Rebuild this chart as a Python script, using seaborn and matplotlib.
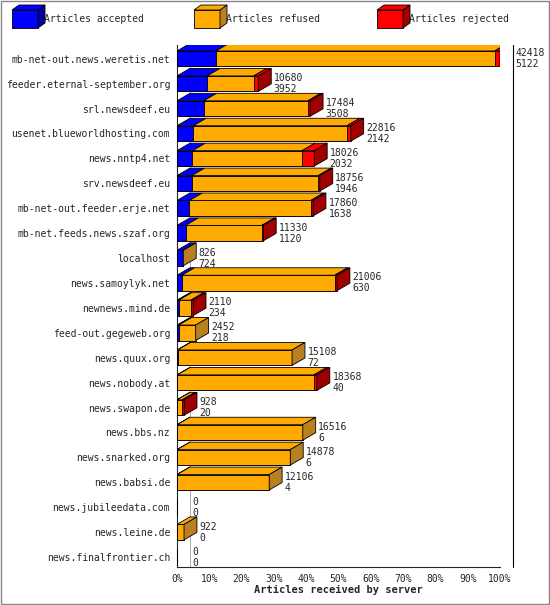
import matplotlib
matplotlib.use("Agg")
import matplotlib.pyplot as plt
import seaborn as sns
import numpy as np
import pandas as pd
from matplotlib.patches import Polygon, Rectangle

servers = ["mb-net-out.news.weretis.net","feeder.eternal-september.org","srl.newsdeef.eu",
 "usenet.blueworldhosting.com","news.nntp4.net","srv.newsdeef.eu","mb-net-out.feeder.erje.net",
 "mb-net.feeds.news.szaf.org","localhost","news.samoylyk.net","newnews.mind.de",
 "feed-out.gegeweb.org","news.quux.org","news.nobody.at","news.swapon.de","news.bbs.nz",
 "news.snarked.org","news.babsi.de","news.jubileedata.com","news.leine.de","news.finalfrontier.ch"]
total    = [42418,10680,17484,22816,18026,18756,17860,11330,826,21006,2110,2452,15108,18368,928,16516,14878,12106,0,922,0]
accepted = [5122,3952,3508,2142,2032,1946,1638,1120,724,630,234,218,72,40,20,6,6,4,0,0,0]
rejected = [700,600,300,500,1600,200,300,200,0,300,300,0,0,400,250,0,0,0,0,0,0]

sns.set_style("white")
plt.rcParams['font.family'] = ['DejaVu Sans Mono']
plt.rcParams['font.size'] = 7

mx = max(total)
df = pd.DataFrame({"server": servers,
    "acc": np.array(accepted)/mx*100,
    "ar": (np.array(total)-np.array(rejected))/mx*100,
    "tot": np.array(total)/mx*100})

fig = plt.figure(figsize=(5.5,6.05), dpi=100)
ax = fig.add_axes([177/550, 1-567/605, 323/550, (567-45)/605])
BLUE, ORANGE, RED = "#0000ff", "#ffaa00", "#ff0000"
SIDE = {BLUE: "#0000a0", ORANGE: "#b88020", RED: "#a00000"}
H = 0.62
for col, c in [("tot", RED), ("ar", ORANGE), ("acc", BLUE)]:
    sns.barplot(data=df, y="server", x=col, color=c, orient="h", width=H,
                edgecolor="black", linewidth=0.6, ax=ax, saturation=1, zorder=3)
dx, dy = 4.0, 0.3
for i in range(len(servers)):
    segs = [(0, df.acc[i], BLUE), (df.acc[i], df.ar[i], ORANGE), (df.ar[i], df.tot[i], RED)]
    yt = i - H/2
    last = None
    for x0, x1, c in segs:
        if x1 - x0 <= 0: continue
        ax.add_patch(Polygon([(x0,yt),(x1,yt),(x1+dx,yt-dy),(x0+dx,yt-dy)], closed=True,
                             fc=c, ec="black", lw=0.6, zorder=4))
        last = (x1, c)
    if last:
        x1, c = last
        ax.add_patch(Polygon([(x1,yt),(x1+dx,yt-dy),(x1+dx,yt+H-dy),(x1,yt+H)], closed=True,
                             fc=SIDE[c], ec="black", lw=0.6, zorder=4))
    xe = df.tot[i] + dx + 0.8
    ax.text(xe, i-0.22, str(total[i]), va="center", ha="left", fontsize=7, zorder=5)
    ax.text(xe, i+0.22, str(accepted[i]), va="center", ha="left", fontsize=7, zorder=5)

ax.set_xlim(0, 100)
ax.set_ylim(20.4, -0.55)
ax.set_xticks(np.arange(0, 101, 10))
ax.set_xticklabels([f"{v}%" for v in range(0, 101, 10)])
ax.set_ylabel("")
ax.set_xlabel("Articles received by server", fontweight="bold", fontsize=7.5, labelpad=1)
ax.tick_params(axis="both", length=3, pad=2, labelsize=7)
for s in ["top", "right"]:
    ax.spines[s].set_visible(False)
ax.plot([100+dx, 100+dx], [20.4, -0.55], color="black", lw=0.8, clip_on=False)
ax.plot([dx, dx], [20.4, -0.55], color="#888888", lw=0.5, zorder=1)

for x, c, lab in [(12, BLUE, "Articles accepted"), (194, ORANGE, "Articles refused"), (377, RED, "Articles rejected")]:
    fig.patches.append(Rectangle((x/550, 1-28/605), 26/550, 18/605, transform=fig.transFigure,
                                 fc=c, ec="black", lw=0.6))
    fig.patches.append(Polygon([((x+26)/550, 1-28/605), ((x+33)/550, 1-23/605),
                                ((x+33)/550, 1-5/605), ((x+26)/550, 1-10/605)], closed=True,
                               transform=fig.transFigure, fc=SIDE[c], ec="black", lw=0.6))
    fig.patches.append(Polygon([(x/550, 1-10/605), ((x+26)/550, 1-10/605), ((x+33)/550, 1-5/605),
                                ((x+7)/550, 1-5/605)], closed=True,
                               transform=fig.transFigure, fc=c, ec="black", lw=0.6))
    fig.text((x+32)/550, 1-19/605, lab, va="center", ha="left", fontsize=7)
fig.patches.append(Rectangle((0.001, 0.001), 0.997, 0.997, transform=fig.transFigure,
                             fill=False, ec="#888888", lw=1))
fig.savefig("out.png", dpi=100)
